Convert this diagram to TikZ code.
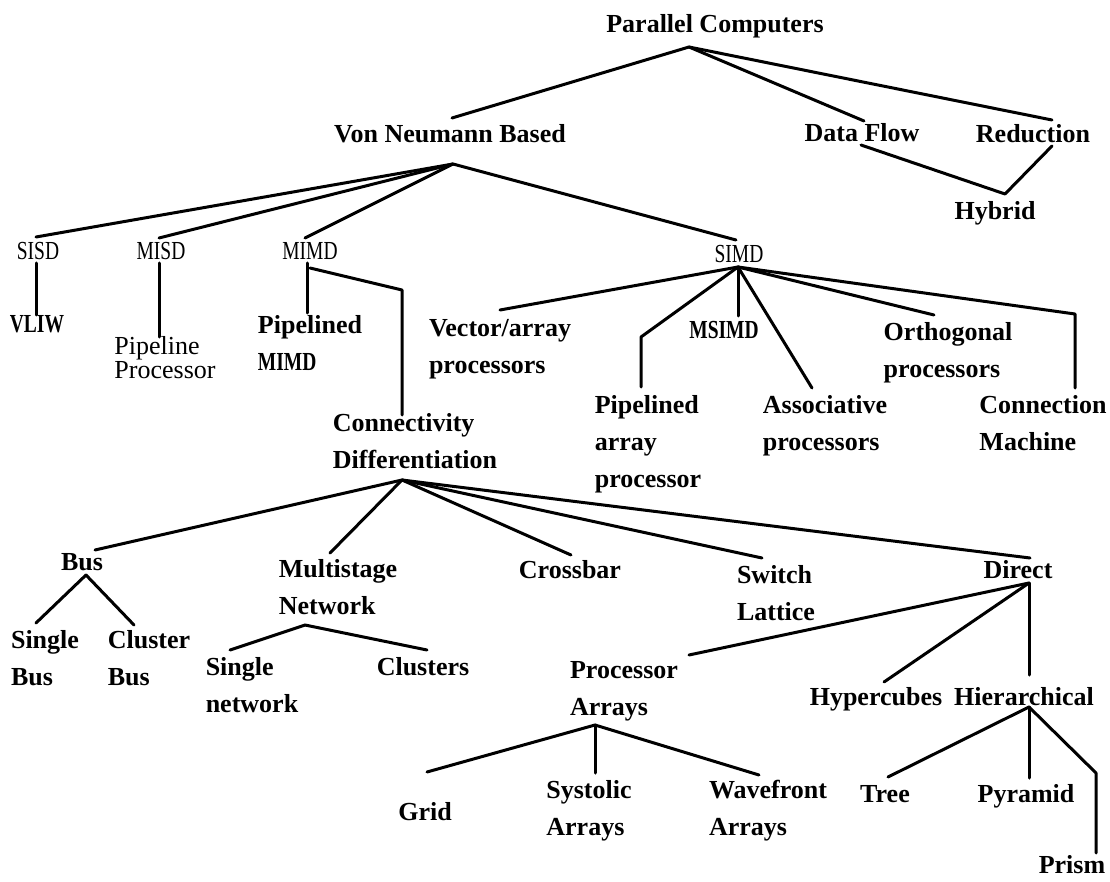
\documentclass[tikz,border=0pt]{standalone}
\usepackage{fontspec}
\setmainfont{Liberation Serif}
\usepackage{graphicx}
% condensed capitals for the acronyms
\newcommand\cnd[1]{\scalebox{0.75}[1]{#1}}
\begin{document}
\begin{tikzpicture}[x=1pt,y=-1pt,
  lbl/.style={inner sep=0pt, anchor=base, align=left,
              font=\fontsize{26}{37}\selectfont\bfseries},
  thin/.style={lbl, font=\fontsize{26}{37}\selectfont},
  plain/.style={lbl, font=\fontsize{26}{21}\selectfont},
  edge/.style={line width=3pt, line cap=round, line join=round}]
\useasboundingbox (0,0) rectangle (1110,882);

% ---- labels (multi-line labels sit on the baseline of their last line) ----
\node[lbl] (pc) at (715,33) {Parallel Computers};
\node[lbl] (vn) at (450,143) {Von Neumann Based};
\node[lbl] (df) at (862,142) {Data Flow};
\node[lbl] (rd) at (1033,143) {Reduction};
\node[lbl] (hy) at (995,220) {Hybrid};

\node[thin] (sisd) at (38,260) {\cnd{SISD}};
\node[thin] (misd) at (161,260) {\cnd{MISD}};
\node[thin] (mimd) at (310,260) {\cnd{MIMD}};
\node[thin] (simd) at (739,263) {\cnd{SIMD}};

\node[lbl] (vliw) at (37,332) {\cnd{VLIW}};
\node[plain] (pp) at (165,378) {Pipeline\\Processor};
\node[lbl] (pm) at (310,370) {Pipelined\\\cnd{MIMD}};
\node[lbl] (cd) at (415,468) {Connectivity\\Differentiation};

\node[lbl] (va) at (500,373) {Vector/array\\processors};
\node[lbl] (pa) at (648,487) {Pipelined\\array\\processor};
\node[lbl] (msimd) at (724,338) {\cnd{MSIMD}};
\node[lbl] (as) at (825,450) {Associative\\processors};
\node[lbl] (or) at (948,377) {Orthogonal\\processors};
\node[lbl] (cm) at (1043,450) {Connection\\Machine};

\node[lbl] (bus) at (82,570) {Bus};
\node[lbl] (ms) at (338,614) {Multistage\\Network};
\node[lbl] (cb) at (570,578) {Crossbar};
\node[lbl] (sl) at (776,620) {Switch\\Lattice};
\node[lbl] (di) at (1018,578) {Direct};

\node[lbl] (sb) at (45,685) {Single\\Bus};
\node[lbl] (clb) at (149,685) {Cluster\\Bus};
\node[lbl] (sn) at (252,712) {Single\\network};
\node[lbl] (cl) at (423,675) {Clusters};

\node[lbl] (pra) at (624,715) {Processor\\Arrays};
\node[lbl] (hc) at (876,705) {Hypercubes};
\node[lbl] (hi) at (1024,705) {Hierarchical};

\node[lbl] (gr) at (425,820) {Grid};
\node[lbl] (sy) at (589,835) {Systolic\\Arrays};
\node[lbl] (wf) at (768,835) {Wavefront\\Arrays};
\node[lbl] (tr) at (885,802) {Tree};
\node[lbl] (py) at (1026,802) {Pyramid};
\node[lbl] (pr) at (1072,873) {Prism};

% ---- branch points and connector ends ----
\coordinate (pc-b) at (689,47);
\coordinate (vn-t) at (452,118);
\coordinate (df-t) at (864,121);
\coordinate (rd-t) at (1052,120);
\coordinate (df-b) at (861,145);
\coordinate (rd-b) at (1052,146);
\coordinate (hy-t) at (1005,194);

\coordinate (vn-b) at (453,164);
\coordinate (sisd-t) at (36,237);
\coordinate (misd-t) at (159,238);
\coordinate (mimd-t) at (305,238);
\coordinate (simd-t) at (736,240);

\coordinate (sisd-b) at (36,263);
\coordinate (vliw-t) at (36,315);
\coordinate (misd-b) at (159,263);
\coordinate (pp-t) at (159,337);
\coordinate (mimd-b) at (307,263);
\coordinate (pm-t) at (307,313);
\coordinate (mimd-r) at (310,268);
\coordinate (cd-k) at (402,290);
\coordinate (cd-t) at (402,415);

\coordinate (simd-b) at (738,267);
\coordinate (va-t) at (500,310);
\coordinate (pa-k) at (641,337);
\coordinate (pa-t) at (641,387);
\coordinate (msimd-t) at (738,316);
\coordinate (as-t) at (812,388);
\coordinate (or-t) at (934,315);
\coordinate (cm-k) at (1075,314);
\coordinate (cm-t) at (1075,388);

\coordinate (cd-b) at (402,480);
\coordinate (bus-t) at (95,550);
\coordinate (ms-t) at (330,553);
\coordinate (cb-t) at (571,555);
\coordinate (sl-t) at (762,558);
\coordinate (di-t) at (1030,558);

\coordinate (bus-b) at (86,575);
\coordinate (sb-t) at (36,623);
\coordinate (clb-t) at (134,625);
\coordinate (ms-b) at (305,625);
\coordinate (sn-t) at (230,650);
\coordinate (cl-t) at (427,650);

\coordinate (di-b) at (1029,583);
\coordinate (pra-t) at (689,655);
\coordinate (hc-t) at (884,682);
\coordinate (hi-t) at (1029,675);

\coordinate (pra-b) at (595,725);
\coordinate (gr-t) at (427,772);
\coordinate (sy-t) at (595,773);
\coordinate (wf-t) at (759,775);

\coordinate (hi-b) at (1029,707);
\coordinate (tr-t) at (888,777);
\coordinate (py-t) at (1029,778);
\coordinate (pr-k) at (1096,773);
\coordinate (pr-t) at (1096,853);

% ---- connectors ----
\draw[edge] (pc-b) -- (vn-t);
\draw[edge] (pc-b) -- (df-t);
\draw[edge] (pc-b) -- (rd-t);
\draw[edge] (df-b) -- (hy-t) -- (rd-b);

\draw[edge] (vn-b) -- (sisd-t);
\draw[edge] (vn-b) -- (misd-t);
\draw[edge] (vn-b) -- (mimd-t);
\draw[edge] (vn-b) -- (simd-t);

\draw[edge] (sisd-b) -- (vliw-t);
\draw[edge] (misd-b) -- (pp-t);
\draw[edge] (mimd-b) -- (pm-t);
\draw[edge] (mimd-r) -- (cd-k) -- (cd-t);

\draw[edge] (simd-b) -- (va-t);
\draw[edge] (simd-b) -- (pa-k) -- (pa-t);
\draw[edge] (simd-b) -- (msimd-t);
\draw[edge] (simd-b) -- (as-t);
\draw[edge] (simd-b) -- (or-t);
\draw[edge] (simd-b) -- (cm-k) -- (cm-t);

\draw[edge] (cd-b) -- (bus-t);
\draw[edge] (cd-b) -- (ms-t);
\draw[edge] (cd-b) -- (cb-t);
\draw[edge] (cd-b) -- (sl-t);
\draw[edge] (cd-b) -- (di-t);

\draw[edge] (bus-b) -- (sb-t);
\draw[edge] (bus-b) -- (clb-t);
\draw[edge] (ms-b) -- (sn-t);
\draw[edge] (ms-b) -- (cl-t);

\draw[edge] (di-b) -- (pra-t);
\draw[edge] (di-b) -- (hc-t);
\draw[edge] (di-b) -- (hi-t);

\draw[edge] (pra-b) -- (gr-t);
\draw[edge] (pra-b) -- (sy-t);
\draw[edge] (pra-b) -- (wf-t);

\draw[edge] (hi-b) -- (tr-t);
\draw[edge] (hi-b) -- (py-t);
\draw[edge] (hi-b) -- (pr-k) -- (pr-t);
\end{tikzpicture}
\end{document}
